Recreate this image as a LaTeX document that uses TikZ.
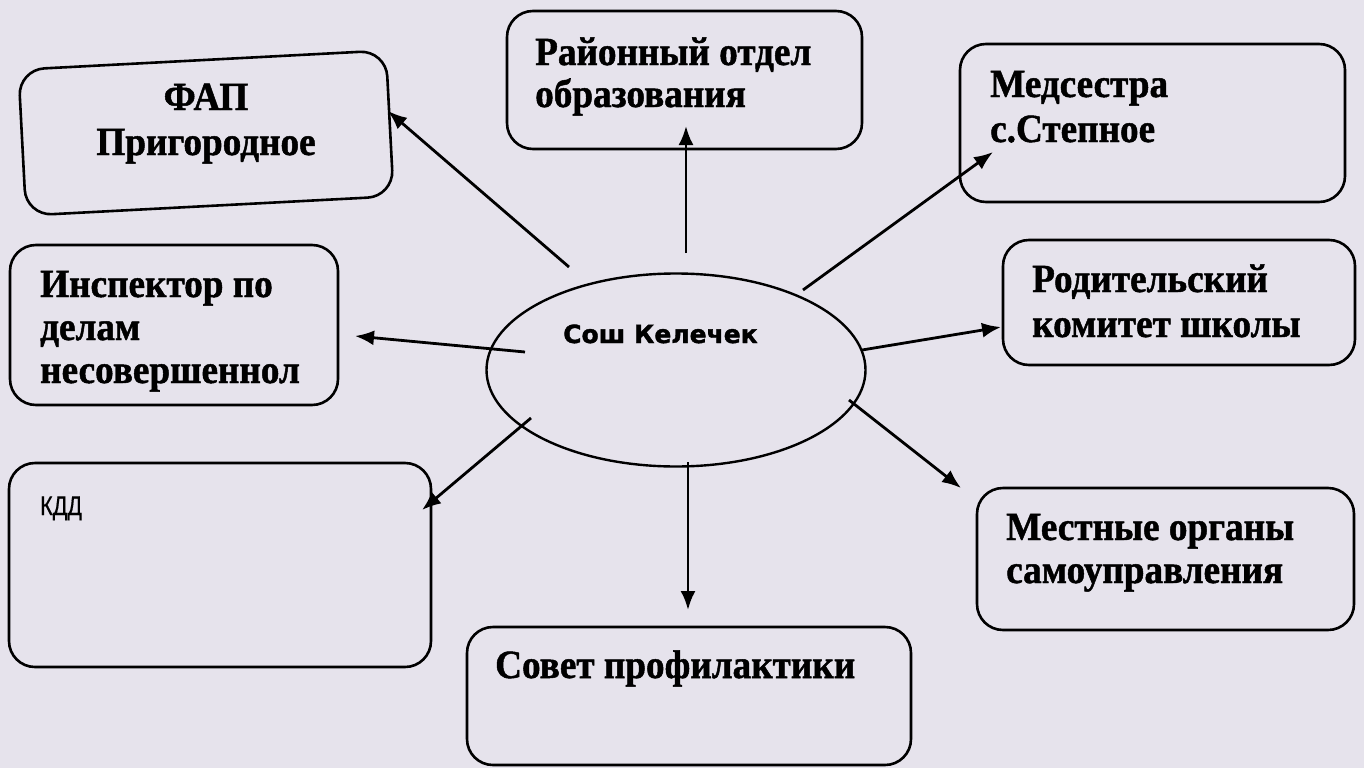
\documentclass[tikz,border=0pt]{standalone}
\usepackage{fontspec}
\setmainfont{Liberation Serif}
\newfontfamily\bodyfont[FakeStretch=0.93,FakeBold=1.2]{Liberation Serif}
\newfontfamily\sansfont[FakeBold=1.5]{DejaVu Sans}
\newfontfamily\sanscond[FakeStretch=0.8,FakeBold=0.5]{Liberation Sans}
\usetikzlibrary{shapes.geometric,arrows.meta}
\definecolor{paper}{RGB}{230,227,236}
\tikzset{
  box/.style={draw=black, line width=2.6pt, rounded corners=26pt},
  lbl/.style={anchor=base west, inner sep=0pt, font=\bodyfont\bfseries\fontsize{40}{43}\selectfont},
  arr/.style={line width=2.8pt, -{Latex[length=19pt,width=15pt]}},
}
\begin{document}
\begin{tikzpicture}[x=1pt,y=-1pt]
\fill[paper] (0,0) rectangle (1364,768);
\useasboundingbox (0,0) rectangle (1364,768);
% boxes
\node[box, minimum width=368pt, minimum height=146pt, rotate=3] (fap) at (206,133) {};
\node[box, minimum width=355pt, minimum height=138pt] (ron) at (684.5,80) {};
\node[box, minimum width=385pt, minimum height=158pt] (med) at (1152.5,123) {};
\node[box, minimum width=328pt, minimum height=160pt] (insp) at (174,325) {};
\node[box, minimum width=352pt, minimum height=125pt] (rod) at (1179,302.5) {};
\node[box, minimum width=422pt, minimum height=204pt] (kdd) at (220,565) {};
\node[box, minimum width=377pt, minimum height=142pt] (mest) at (1165.5,559) {};
\node[box, minimum width=444pt, minimum height=138pt] (sov) at (689,696) {};
\node[draw=black, line width=2.4pt, ellipse, minimum width=379pt, minimum height=193pt, inner sep=0pt] (sch) at (676,370) {};
% labels
\node[lbl, anchor=base] (fapT) at (206,110) {ФАП};
\node[lbl, anchor=base] (fapT2) at (206,155) {Пригородное};
\node[lbl] (ronT) at (535,65) {Районный отдел};
\node[lbl] (ronT2) at (535,107) {образования};
\node[lbl] (medT) at (990,97) {Медсестра};
\node[lbl] (medT2) at (990,142) {с.Степное};
\node[lbl] (inspT) at (40,297) {Инспектор по};
\node[lbl] (inspT2) at (40,340) {делам};
\node[lbl] (inspT3) at (40,383) {несовершеннол};
\node[lbl] (rodT) at (1032,292) {Родительский};
\node[lbl] (rodT2) at (1032,337) {комитет школы};
\node[lbl] (mestT) at (1006,540) {Местные органы};
\node[lbl] (mestT2) at (1006,583) {самоуправления};
\node[lbl] (sovT) at (495,678) {Совет профилактики};
\node[anchor=base west, inner sep=0pt, font=\sansfont\bfseries\fontsize{25}{28}\selectfont] (schT) at (563,343) {Сош Келечек};
\node[anchor=base west, inner sep=0pt, font=\sanscond\fontsize{27}{30}\selectfont] (kddT) at (40,515) {КДД};
% arrow end points
\coordinate (s1) at (569,267); \coordinate (e1) at (388,111);
\coordinate (s2) at (686,253); \coordinate (e2) at (686,126);
\coordinate (s3) at (803,290); \coordinate (e3) at (993,152);
\coordinate (s4) at (525,352); \coordinate (e4) at (355,336);
\coordinate (s5) at (862,350); \coordinate (e5) at (1001,327);
\coordinate (s6) at (531,418); \coordinate (e6) at (422,510);
\coordinate (s7) at (688,462); \coordinate (e7) at (688,610);
\coordinate (s8) at (849,400); \coordinate (e8) at (961,488);
\draw[arr] (s1) -- (e1);
\draw[arr] (s2) -- (e2);
\draw[arr] (s3) -- (e3);
\draw[arr] (s4) -- (e4);
\draw[arr] (s5) -- (e5);
\draw[arr] (s6) -- (e6);
\draw[arr] (s7) -- (e7);
\draw[arr] (s8) -- (e8);
\end{tikzpicture}
\end{document}
